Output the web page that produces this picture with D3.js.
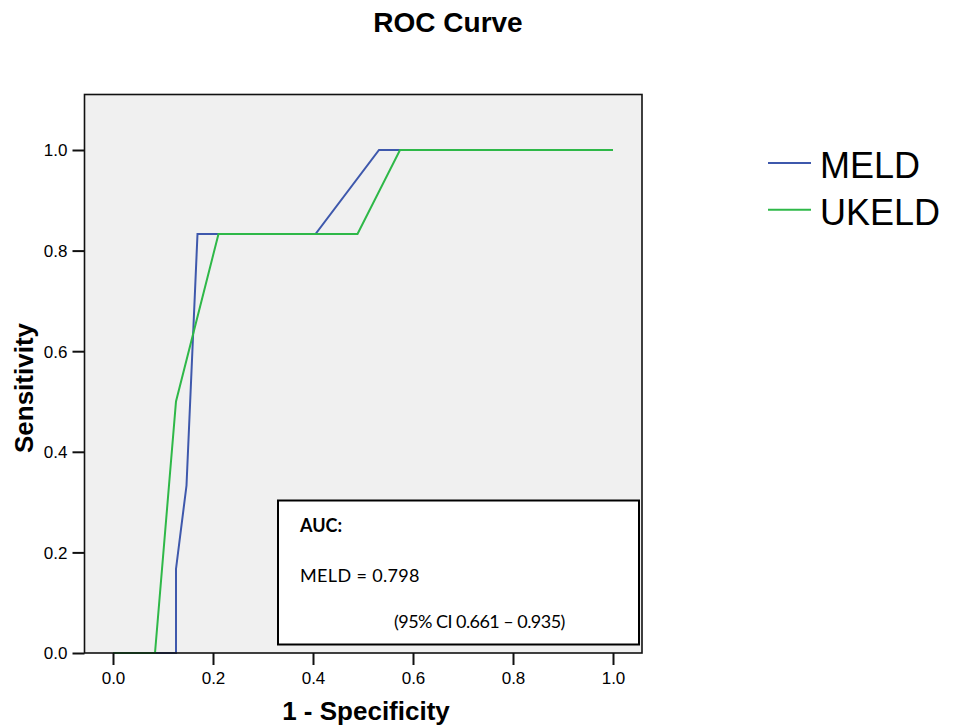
<!DOCTYPE html>
<html>
<head>
<meta charset="utf-8">
<script src="https://cdn.jsdelivr.net/npm/d3@7"></script>
<style>
  html, body { margin: 0; padding: 0; background: #fff; }
  svg { display: block; }
</style>
</head>
<body>
<svg id="chart" width="958" height="726"></svg>
<script>
// ---- Data ----
const seriesNames = ["MELD", "UKELD"];
const seriesColors = ["#3E58AC", "#2EB848"];
const meldFPR  = [0, 0.126, 0.126, 0.147, 0.169, 0.405, 0.532, 1.0];
const meldTPR  = [0, 0,     0.167, 0.333, 0.833, 0.833, 1.0,   1.0];
const ukeldFPR = [0, 0.084, 0.126, 0.211, 0.489, 0.574, 1.0];
const ukeldTPR = [0, 0,     0.5,   0.833, 0.833, 1.0,   1.0];
const xTicks = [0, 0.2, 0.4, 0.6, 0.8, 1.0];
const yTicks = [0, 0.2, 0.4, 0.6, 0.8, 1.0];
const titleText = "ROC Curve";
const xLabel = "1 - Specificity";
const yLabel = "Sensitivity";
const aucLines = ["AUC:", "MELD = 0.798", "(95% CI 0.661 \u2013 0.935)"];

// ---- Layout ----
const svg = d3.select("#chart");
const plot = { left: 84.5, right: 642, top: 94.5, bottom: 653 };
const x = d3.scaleLinear().domain([0, 1]).range([113, 613]);
const y = d3.scaleLinear().domain([0, 1]).range([653, 150]);

// title
svg.append("text")
  .attr("x", 448).attr("y", 32)
  .attr("text-anchor", "middle")
  .attr("font-family", "Liberation Sans, Arial, sans-serif")
  .attr("font-weight", "bold").attr("font-size", 28)
  .attr("fill", "#000")
  .text(titleText);

// plot background
svg.append("rect")
  .attr("x", plot.left).attr("y", plot.top)
  .attr("width", plot.right - plot.left).attr("height", plot.bottom - plot.top)
  .attr("fill", "#F0F0F0");

// curves
const line = d3.line().x(d => x(d[0])).y(d => y(d[1]));
const series = [
  d3.zip(meldFPR, meldTPR),
  d3.zip(ukeldFPR, ukeldTPR)
];
series.forEach((pts, i) => {
  svg.append("path")
    .datum(pts)
    .attr("d", line)
    .attr("fill", "none")
    .attr("stroke", seriesColors[i])
    .attr("stroke-width", 2)
    .attr("stroke-linejoin", "miter");
});

// AUC box
const box = { x: 278, y: 500.5, w: 361, h: 144 };
svg.append("rect")
  .attr("x", box.x).attr("y", box.y)
  .attr("width", box.w).attr("height", box.h)
  .attr("fill", "#fff").attr("stroke", "#000").attr("stroke-width", 2);
const boxFont = "Lato, 'Open Sans', sans-serif";
svg.append("text").attr("x", 300).attr("y", 532)
  .attr("font-family", boxFont).attr("font-weight", "bold").attr("font-size", 18)
  .text(aucLines[0]);
svg.append("text").attr("x", 300).attr("y", 582)
  .attr("font-family", boxFont).attr("font-size", 18)
  .attr("letter-spacing", 0.35)
  .text(aucLines[1]);
svg.append("text").attr("x", 394).attr("y", 628)
  .attr("font-family", boxFont).attr("font-size", 18)
  .attr("letter-spacing", -0.55)
  .text(aucLines[2]);

// frame
svg.append("rect")
  .attr("x", plot.left).attr("y", plot.top)
  .attr("width", plot.right - plot.left).attr("height", plot.bottom - plot.top)
  .attr("fill", "none").attr("stroke", "#111").attr("stroke-width", 1.6);

// axes
const xAxis = svg.append("g")
  .attr("transform", `translate(0,${plot.bottom})`)
  .call(d3.axisBottom(x).tickValues(xTicks).tickFormat(d3.format(".1f")).tickSize(12).tickSizeOuter(0));
const yAxis = svg.append("g")
  .attr("transform", `translate(${plot.left},0)`)
  .call(d3.axisLeft(y).tickValues(yTicks).tickFormat(d3.format(".1f")).tickSize(12).tickSizeOuter(0));
[xAxis, yAxis].forEach(g => {
  g.select(".domain").remove();
  g.selectAll(".tick line").attr("stroke", "#111").attr("stroke-width", 2);
  g.selectAll(".tick text")
    .attr("font-family", "Liberation Sans, Arial, sans-serif")
    .attr("font-size", 17).attr("fill", "#000");
});
xAxis.selectAll(".tick text").attr("dy", null).attr("y", 31);
yAxis.selectAll(".tick text").attr("dy", "0.35em").attr("x", -17);

// axis labels
svg.append("text")
  .attr("x", 366).attr("y", 720)
  .attr("text-anchor", "middle")
  .attr("font-family", "Liberation Sans, Arial, sans-serif")
  .attr("font-weight", "bold").attr("font-size", 26)
  .text(xLabel);
svg.append("text")
  .attr("transform", "translate(33,388) rotate(-90)")
  .attr("text-anchor", "middle")
  .attr("font-family", "Liberation Sans, Arial, sans-serif")
  .attr("font-weight", "bold").attr("font-size", 26)
  .text(yLabel);

// legend
const legend = svg.append("g");
seriesNames.forEach((name, i) => {
  const yy = 163 + i * 46.7;
  legend.append("line")
    .attr("x1", 768).attr("x2", 811).attr("y1", yy).attr("y2", yy)
    .attr("stroke", seriesColors[i]).attr("stroke-width", 2);
  legend.append("text")
    .attr("x", 820).attr("y", yy + 15)
    .attr("font-family", "Liberation Sans, Arial, sans-serif")
    .attr("font-size", 36).attr("fill", "#000")
    .text(name);
});
</script>
</body>
</html>
